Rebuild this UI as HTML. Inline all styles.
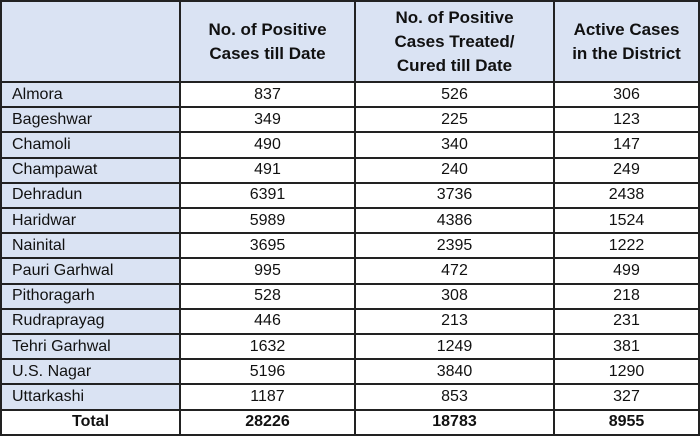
<!DOCTYPE html>
<html><head><meta charset="utf-8"><style>
body{margin:0;width:700px;height:437px;background:#fff;overflow:hidden;font-family:"Liberation Sans",sans-serif;}
#t{position:absolute;left:0;top:0;width:700px;height:437px;}
.c{position:absolute;box-sizing:border-box;display:flex;align-items:center;font-size:16px;color:#111;}
.h{font-weight:bold;font-size:17px;justify-content:center;text-align:center;line-height:24px;background:#dae3f3;}
.l{background:#dae3f3;padding-left:11px;}
.n{justify-content:center;background:#fff;}
.b{font-weight:bold;}
.line{position:absolute;background:#222;}
</style></head><body>
<div id="t"></div>
<script>
const districts=["Almora","Bageshwar","Chamoli","Champawat","Dehradun","Haridwar","Nainital","Pauri Garhwal","Pithoragarh","Rudraprayag","Tehri Garhwal","U.S. Nagar","Uttarkashi"];
const positive=[837,349,490,491,6391,5989,3695,995,528,446,1632,5196,1187];
const cured=[526,225,340,240,3736,4386,2395,472,308,213,1249,3840,853];
const active=[306,123,147,249,2438,1524,1222,499,218,231,381,1290,327];
const totals=["28226","18783","8955"];
const headers=["","No. of Positive<br>Cases till Date","No. of Positive<br>Cases Treated/<br>Cured till Date","Active Cases<br>in the District"];
const xs=[1,180,355,554,699];
const top0=1,headH=81,rowH=25.2;
const t=document.getElementById('t');
function cell(x0,x1,y0,h,cls,html,name){
  const d=document.createElement('div');
  d.className='c '+cls;
  d.style.left=x0+'px';d.style.top=y0+'px';d.style.width=(x1-x0)+'px';d.style.height=h+'px';
  d.innerHTML=html;
  
  
  t.appendChild(d);
}
for(let i=0;i<4;i++) cell(xs[i],xs[i+1],top0,headH,'h',headers[i],'header-col-'+i);
const rows=districts.map((d,i)=>[d,positive[i],cured[i],active[i]]);
rows.push(["Total",...totals]);
rows.forEach((r,ri)=>{
  const y=top0+headH+ri*rowH;
  const tot=ri===rows.length-1;
  for(let c=0;c<4;c++){
    let cls=c===0?(tot?'n b':'l'):(tot?'n b':'n');
    cell(xs[c],xs[c+1],y,rowH,cls,String(r[c]),(tot?'total':'row-'+r[0].toLowerCase().replace(/[^a-z]+/g,'-'))+'-col-'+c);
  }
});
function line(x,y,w,h,name){
  const d=document.createElement('div');d.className='line';
  d.style.left=x+'px';d.style.top=y+'px';d.style.width=w+'px';d.style.height=h+'px';
  
  
  t.appendChild(d);
}
const bottom=top0+headH+rows.length*rowH;
xs.forEach((x,i)=>line(x-1,0,2,bottom+1,'v-rule-'+i));
line(0,0,700,2,'top-rule');
for(let i=0;i<=rows.length;i++) line(0,top0+headH+i*rowH-1,700,2,'h-rule-'+i);
</script>
</body></html>
